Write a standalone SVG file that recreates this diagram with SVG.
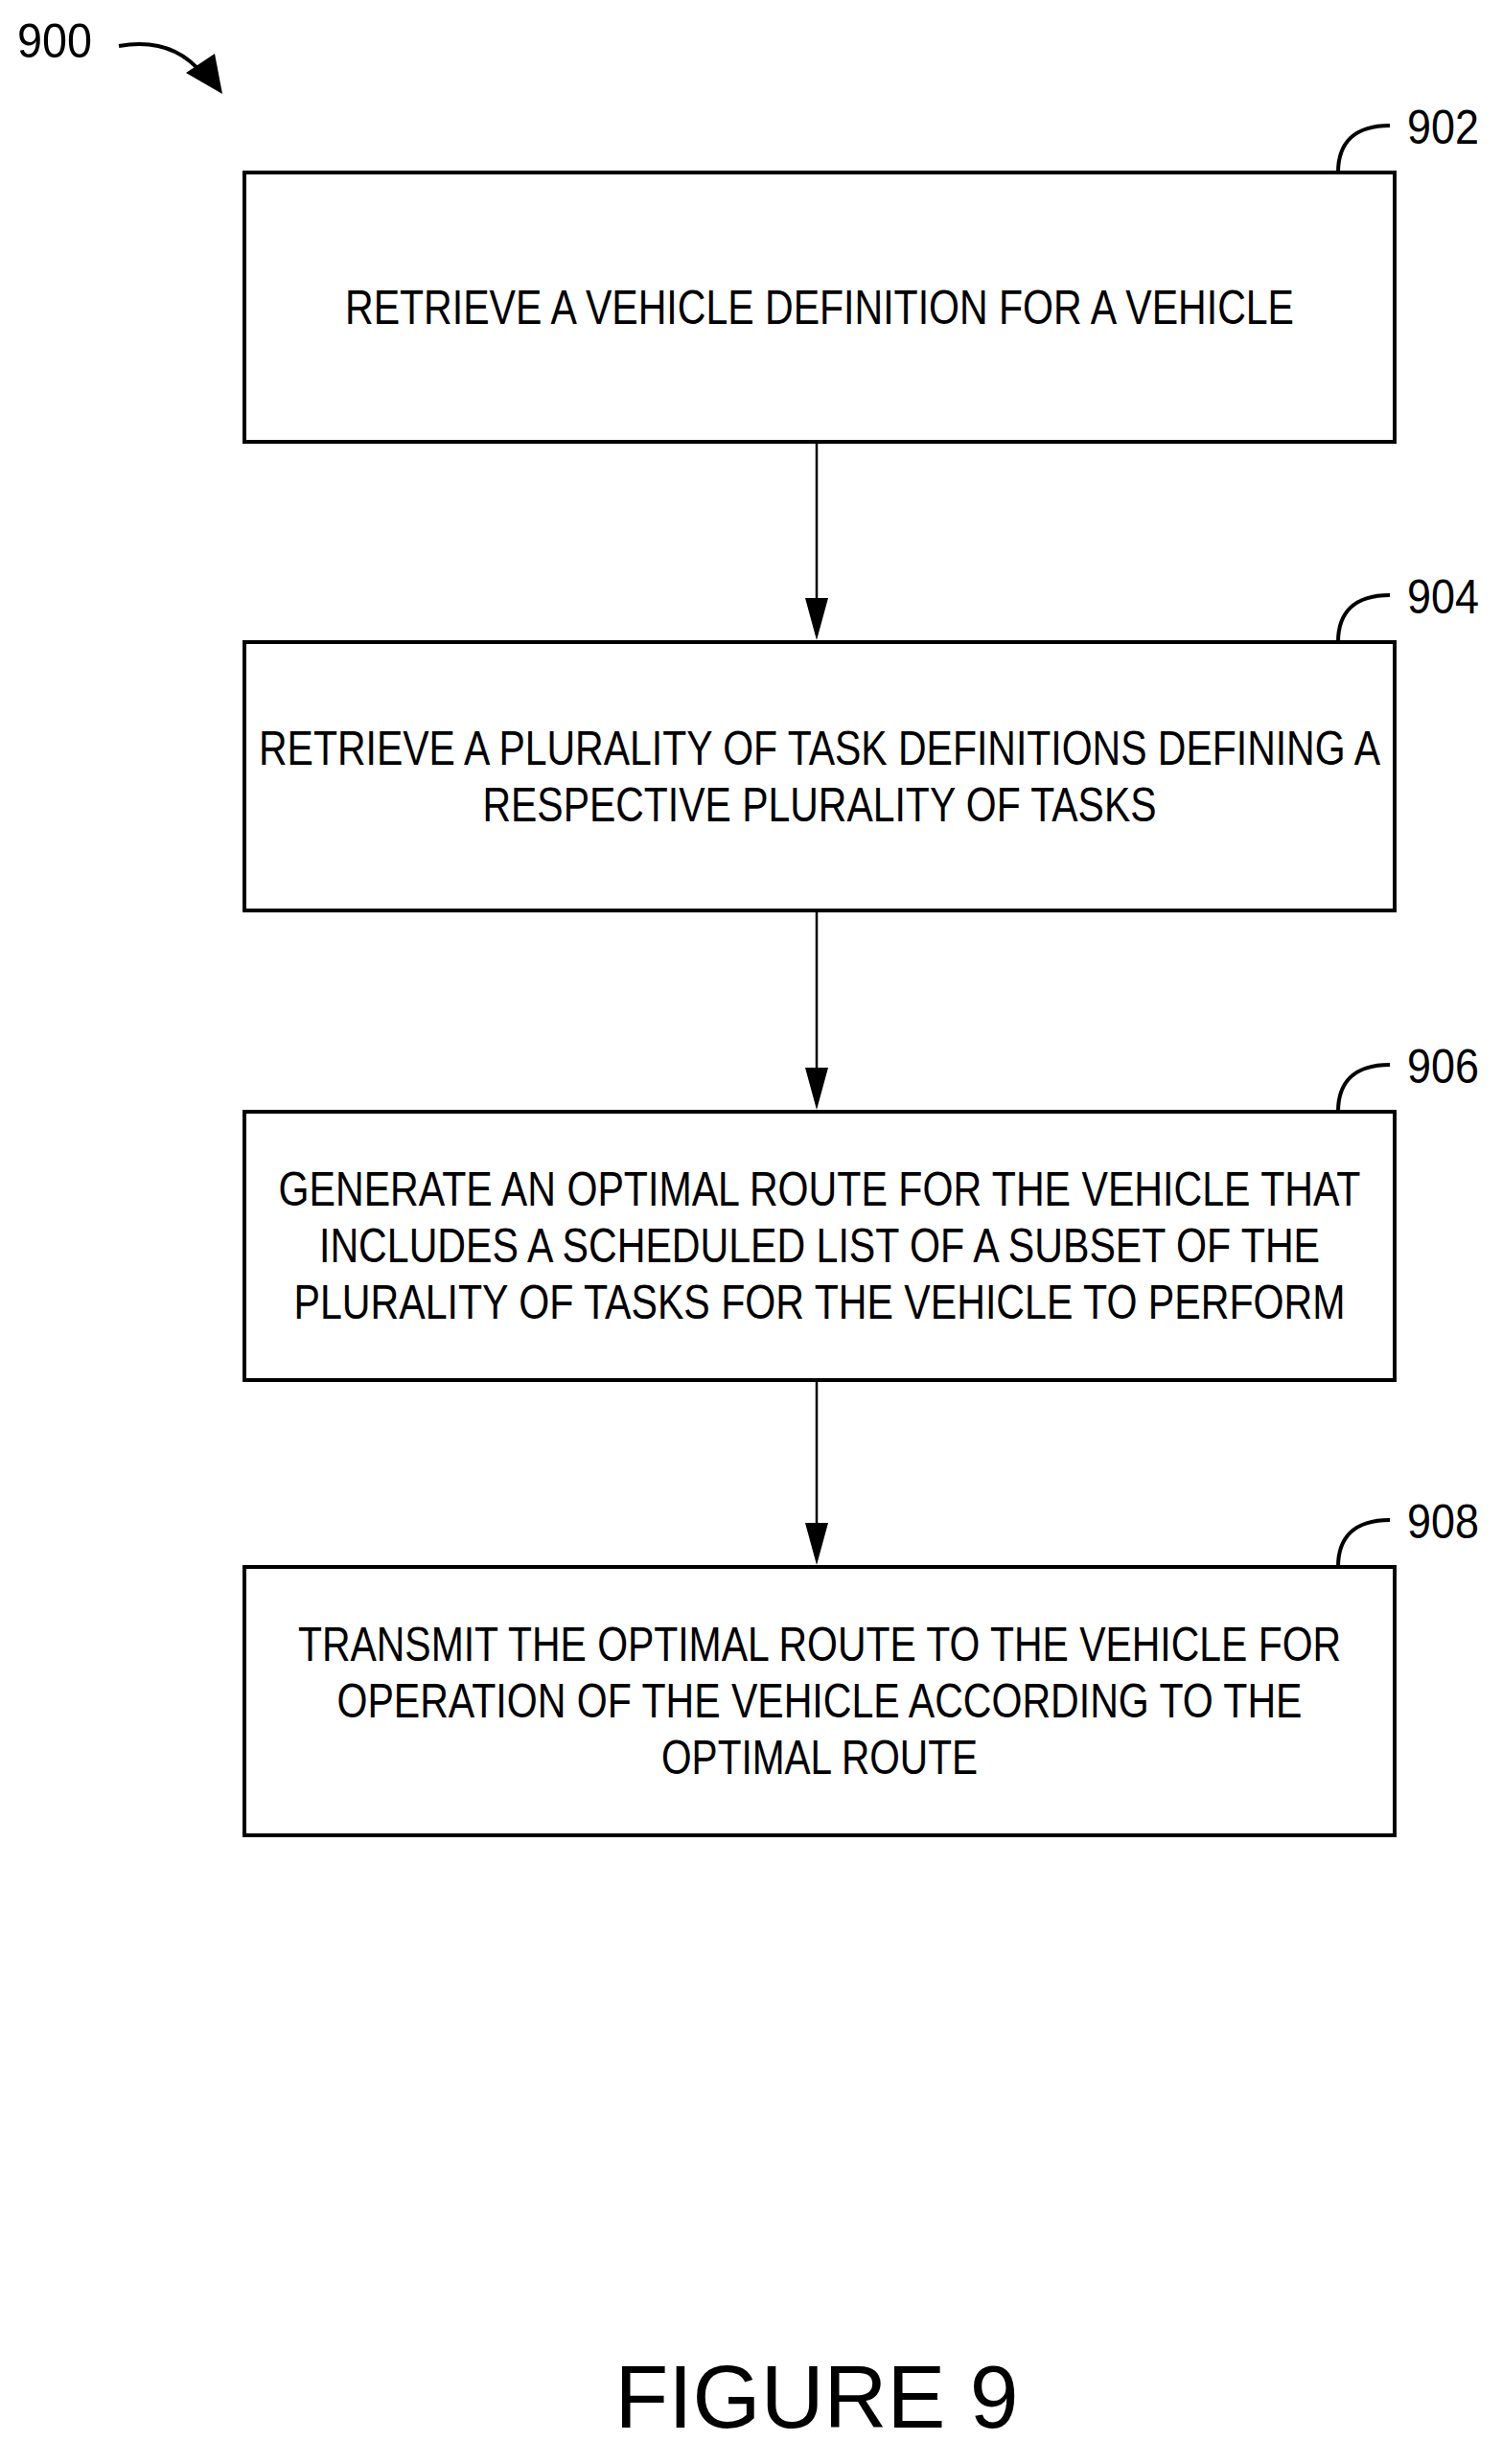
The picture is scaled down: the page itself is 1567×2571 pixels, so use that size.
<svg xmlns="http://www.w3.org/2000/svg" width="1567" height="2571" viewBox="0 0 1567 2571">
<style>
.box{fill:#fff;stroke:#000;stroke-width:4}
.t{font-family:"Liberation Sans",Arial,sans-serif;font-size:50px;fill:#000;text-anchor:middle}
.lbl{font-family:"Liberation Sans",Arial,sans-serif;font-size:50px;fill:#000}
.lead{fill:none;stroke:#000;stroke-width:4}
.c{stroke:#000;stroke-width:2.5;fill:none}
</style>
<rect width="1567" height="2571" fill="#fff"/>
<g id="ref900">
<text class="lbl" x="18" y="60" textLength="78" lengthAdjust="spacingAndGlyphs">900</text>
<path class="lead" d="M124,48 Q180,38 212,78"/>
<path d="M194,76 L232,98 L224,56 Z" fill="#000"/>
</g>
<g id="n902">
<rect class="box" x="255" y="180" width="1200" height="281"/>
<text class="t" x="855" y="338" textLength="990" lengthAdjust="spacingAndGlyphs">RETRIEVE A VEHICLE DEFINITION FOR A VEHICLE</text>
<path class="lead" d="M1396,180 C1396,150 1412,131 1450,131"/>
<text class="lbl" x="1468" y="150" textLength="75" lengthAdjust="spacingAndGlyphs">902</text>
</g>
<g id="n904">
<rect class="box" x="255" y="670" width="1200" height="280"/>
<text class="t" x="855" y="798" textLength="1170" lengthAdjust="spacingAndGlyphs">RETRIEVE A PLURALITY OF TASK DEFINITIONS DEFINING A</text>
<text class="t" x="855" y="857" textLength="703" lengthAdjust="spacingAndGlyphs">RESPECTIVE PLURALITY OF TASKS</text>
<path class="lead" d="M1396,670 C1396,640 1412,621 1450,621"/>
<text class="lbl" x="1468" y="640" textLength="75" lengthAdjust="spacingAndGlyphs">904</text>
</g>
<g id="n906">
<rect class="box" x="255" y="1160" width="1200" height="280"/>
<text class="t" x="855" y="1258" textLength="1129" lengthAdjust="spacingAndGlyphs">GENERATE AN OPTIMAL ROUTE FOR THE VEHICLE THAT</text>
<text class="t" x="855" y="1317" textLength="1044" lengthAdjust="spacingAndGlyphs">INCLUDES A SCHEDULED LIST OF A SUBSET OF THE</text>
<text class="t" x="855" y="1376" textLength="1097" lengthAdjust="spacingAndGlyphs">PLURALITY OF TASKS FOR THE VEHICLE TO PERFORM</text>
<path class="lead" d="M1396,1160 C1396,1130 1412,1111 1450,1111"/>
<text class="lbl" x="1468" y="1130" textLength="75" lengthAdjust="spacingAndGlyphs">906</text>
</g>
<g id="n908">
<rect class="box" x="255" y="1635" width="1200" height="280"/>
<text class="t" x="855" y="1733" textLength="1088" lengthAdjust="spacingAndGlyphs">TRANSMIT THE OPTIMAL ROUTE TO THE VEHICLE FOR</text>
<text class="t" x="855" y="1792" textLength="1007" lengthAdjust="spacingAndGlyphs">OPERATION OF THE VEHICLE ACCORDING TO THE</text>
<text class="t" x="855" y="1851" textLength="330" lengthAdjust="spacingAndGlyphs">OPTIMAL ROUTE</text>
<path class="lead" d="M1396,1635 C1396,1605 1412,1586 1450,1586"/>
<text class="lbl" x="1468" y="1605" textLength="75" lengthAdjust="spacingAndGlyphs">908</text>
</g>
<g id="connectors">
<path d="M852,461 L852,624" class="c"/><path d="M840,624 L864,624 L852,668 Z"/>
<path d="M852,950 L852,1114" class="c"/><path d="M840,1114 L864,1114 L852,1158 Z"/>
<path d="M852,1440 L852,1589" class="c"/><path d="M840,1589 L864,1589 L852,1633 Z"/>
</g>
<text x="852" y="2533" font-family="Liberation Sans,Arial,sans-serif" font-size="92" text-anchor="middle" textLength="421" lengthAdjust="spacingAndGlyphs">FIGURE 9</text>
</svg>
